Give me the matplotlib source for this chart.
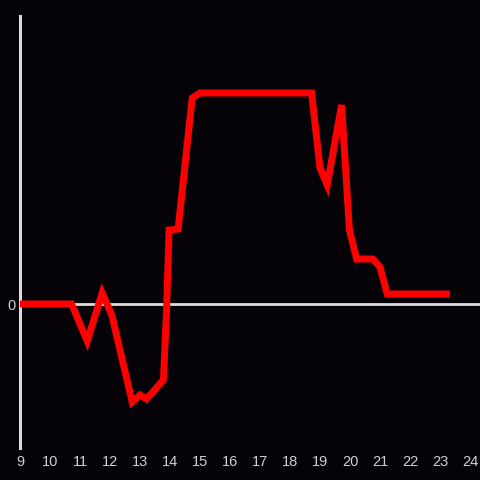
import matplotlib
matplotlib.use("Agg")
import matplotlib.pyplot as plt

# Data
hours = [9.0, 10.72, 11.24, 11.74, 12.06, 12.74, 13.0, 13.22, 13.78, 13.88,
         13.97, 14.27, 14.74, 15.0, 18.72, 19.0, 19.24, 19.72, 19.98, 20.22,
         20.76, 21.0, 21.24, 23.33]
values = [0.0, 0.0, -0.37, 0.11, -0.11, -0.98, -0.91, -0.95, -0.76, -0.10,
          0.74, 0.75, 2.06, 2.11, 2.11, 1.36, 1.19, 1.99, 0.74, 0.45,
          0.45, 0.37, 0.10, 0.10]
xticks = list(range(9, 25))

BG = "#050307"
AXIS = "#dcdcdc"
TEXT = "#d0d0d0"

plt.rcParams['font.family'] = ['Liberation Sans', 'DejaVu Sans']

fig = plt.figure(figsize=(4.8, 4.8), dpi=100, facecolor=BG)
ax = fig.add_axes([20 / 480, 32 / 480, 460 / 480, 432 / 480])
ax.set_facecolor(BG)

ax.plot(hours, values, color="#ff0000", linewidth=5, solid_joinstyle="miter",
        solid_capstyle="butt", zorder=3)
ax.axhline(0, color=AXIS, linewidth=2, zorder=2)

ax.set_xlim(9, 9 + 460 / 30)
ax.set_ylim(-1.44, 2.88)
ax.set_xticks(xticks)
ax.set_yticks([0])
ax.set_yticklabels(["0"])

for side in ["top", "right", "bottom"]:
    ax.spines[side].set_visible(False)
ax.spines["left"].set_color(AXIS)
ax.spines["left"].set_linewidth(2.2)

ax.tick_params(axis="both", length=0, colors=TEXT, labelsize=10.5)
ax.tick_params(axis="x", pad=5)
ax.tick_params(axis="y", pad=3)

fig.savefig("out.png", dpi=100, facecolor=BG)
